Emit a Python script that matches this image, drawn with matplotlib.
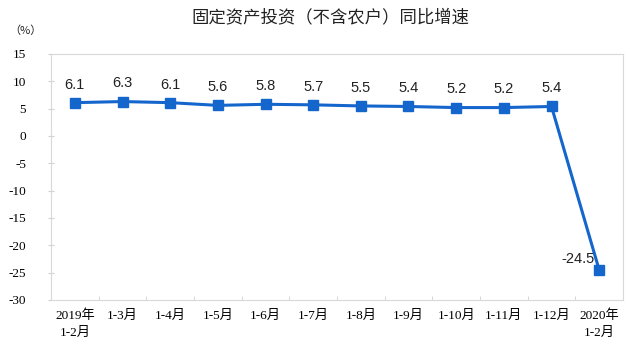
import matplotlib
matplotlib.use("Agg")
import matplotlib.pyplot as plt

categories = ["2019年\n1-2月", "1-3月", "1-4月", "1-5月", "1-6月", "1-7月", "1-8月",
              "1-9月", "1-10月", "1-11月", "1-12月", "2020年\n1-2月"]
values = [6.1, 6.3, 6.1, 5.6, 5.8, 5.7, 5.5, 5.4, 5.2, 5.2, 5.4, -24.5]
yticks = [15, 10, 5, 0, -5, -10, -15, -20, -25, -30]
title = "固定资产投资（不含农户）同比增速"

color = "#1466cc"
fig = plt.figure(figsize=(6.38, 3.52), dpi=100)
ax = fig.add_axes([51/638, 1 - 300/352, (623-51)/638, (300-54)/352])

x = list(range(len(values)))
ax.plot(x, values, color=color, lw=2.2, marker="s", ms=7, mfc=color, mec=color, zorder=3)
for i, v in enumerate(values):
    if i == len(values) - 1:
        ax.annotate(f"{v}", (i, v), xytext=(-3, 3), textcoords="offset points",
                    ha="right", va="bottom", fontsize=10.5, family="Liberation Sans", color="#222222")
    else:
        ax.annotate(f"{v}", (i, v), xytext=(0, 8), textcoords="offset points",
                    ha="center", va="bottom", fontsize=10.5, family="Liberation Sans", color="#222222")

ax.set_xlim(-0.5, len(values) - 0.5)
ax.set_ylim(-30, 15)
ax.set_yticks(yticks)
ax.set_yticklabels([str(t) for t in yticks], family="Liberation Serif", fontsize=9.5)
ax.set_xticks(x)
ax.set_xticklabels(categories, family=["Liberation Serif", "Noto Sans CJK SC"], fontsize=9.5,
                   linespacing=1.45)
ax.set_xticks([i + 0.5 for i in range(-1, len(values))], minor=True)
ax.tick_params(axis="x", which="major", length=0, pad=7)
ax.tick_params(axis="x", which="minor", length=3, color="#d0d0d0", direction="in")
ax.tick_params(axis="y", length=4, color="#d0d0d0", direction="inout", pad=16)
for s in ax.spines.values():
    s.set_color("#d9d9d9")
    s.set_linewidth(0.8)

fig.text(330/638, 1 - 17/352, title, ha="center", va="center", fontsize=12.5,
         family="Noto Sans CJK SC", color="#222222")
fig.text(25/638, 1 - 31/352, "（%）", ha="center", va="center", fontsize=8,
         family=["Noto Sans CJK SC"], color="#222222")

fig.savefig("out.png", dpi=100)
